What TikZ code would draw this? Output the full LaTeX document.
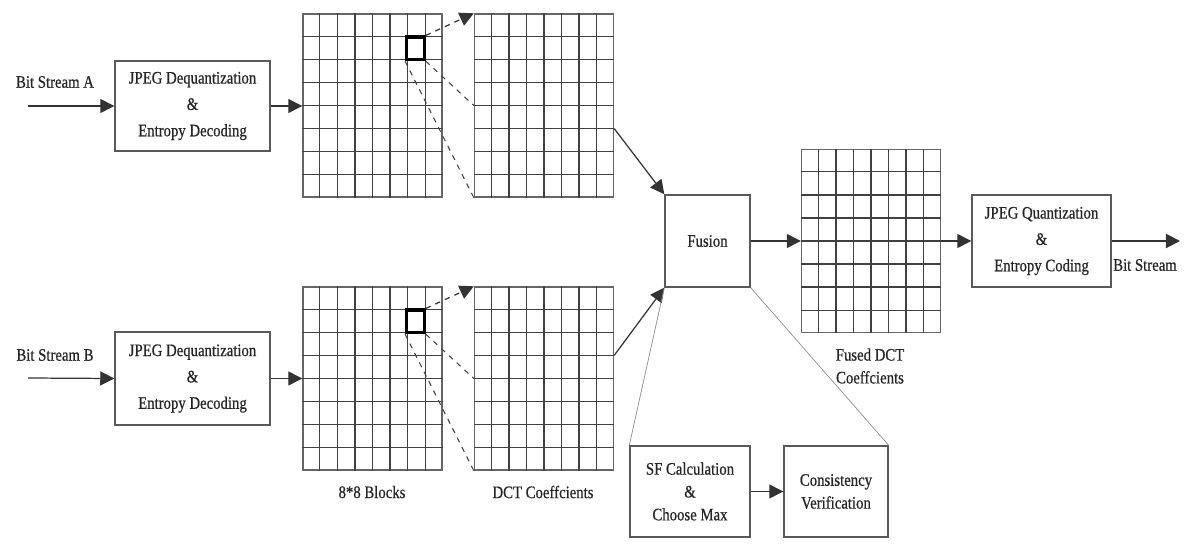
\documentclass[tikz,border=0pt]{standalone}
\usepackage{fontspec}
\setmainfont{Liberation Serif}[FakeStretch=0.84,FakeBold=0.6]
\usetikzlibrary{arrows.meta,calc}
\begin{document}
\begin{tikzpicture}[x=0.02cm,y=-0.02cm,
  box/.style={draw=black!65,line width=0.8pt,fill=white,align=center,inner sep=0pt,
    text=black!85,font=\fontsize{10}{15}\selectfont},
  gridbox/.style={draw=black!60,line width=0.8pt,inner sep=0pt,minimum width=2.78cm,minimum height=3.66cm},
  gline/.style={draw=black!75,line width=0.7pt},
  sel/.style={draw=black,line width=1.8pt,inner sep=0pt,minimum width=0.35cm,minimum height=0.45cm},
  arr/.style={draw=black!80,line width=0.7pt,-{Triangle[length=8pt,width=8pt]}},
  dsh/.style={draw=black!75,line width=0.6pt,dashed},
  thin/.style={draw=black!45,line width=0.4pt},
  lbl/.style={inner sep=0pt,align=center,text=black!85,font=\fontsize{10}{13}\selectfont}]
\useasboundingbox (0,0) rectangle (1196,557);

% boxes
\node[box,minimum width=3.1cm,minimum height=1.8cm] (A1) at (192.5,106) {JPEG Dequantization\\\&\\Entropy Decoding};
\node[box,minimum width=3.1cm,minimum height=1.86cm] (B1) at (192.5,378.5) {JPEG Dequantization\\\&\\Entropy Decoding};
\node[box,minimum width=1.7cm,minimum height=1.84cm] (F) at (707.5,241) {Fusion};
\node[box,minimum width=2.78cm,minimum height=1.84cm] (Q) at (1041.5,241) {JPEG Quantization\\\&\\Entropy Coding};
\node[box,minimum width=2.4cm,minimum height=1.82cm,font=\fontsize{10}{13}\selectfont] (SF) at (690,491.5) {SF Calculation\\\&\\Choose Max};
\node[box,minimum width=2.08cm,minimum height=1.82cm,font=\fontsize{10}{13}\selectfont] (CV) at (836,491.5) {Consistency\\Verification};

% grids
\node[gridbox] (g1) at (372.5,105.5) {};
\node[gridbox] (g2) at (544,105.5) {};
\node[gridbox] (g3) at (372.5,378.5) {};
\node[gridbox] (g4) at (544,378.5) {};
\node[gridbox] (g5) at (871,241) {};
\foreach \g in {g1,g2,g3,g4,g5}{
  \foreach \i in {1,...,7}{
    \draw[gline] ($(\g.south west)!\i/8!(\g.south east)$) -- ($(\g.north west)!\i/8!(\g.north east)$);
    \draw[gline] ($(\g.north west)!\i/8!(\g.south west)$) -- ($(\g.north east)!\i/8!(\g.south east)$);
  }
}
\node[sel] (s1) at (415.4,48.3) {};
\node[sel] (s2) at (415.4,321.3) {};

% labels
\node[lbl] (la) at (55,82) {Bit Stream A};
\node[lbl] (lb) at (55,355) {Bit Stream B};
\node[lbl] (l88) at (372,492) {8*8 Blocks};
\node[lbl] (ldct) at (543,492) {DCT Coeffcients};
\node[lbl] (lf) at (870,366) {Fused DCT\\Coeffcients};
\node[lbl] (lbs) at (1145,265) {Bit Stream};

\coordinate (inA) at (28,106);
\coordinate (inB) at (28,378);
\coordinate (out) at (1180,241);

% connectors
\draw[arr] (inA) -- (A1.west);
\draw[arr] (inB) -- (B1.west);
\draw[arr] (A1.east) -- (A1.east -| g1.west);
\draw[arr] (B1.east) -- (B1.east -| g3.west);
\draw[arr,dashed] (s1.north east) -- (g2.north west);
\draw[dsh] (s1.south east) -- (g2.west);
\draw[dsh] (s1.south west) -- (g2.south west);
\draw[arr,dashed] (s2.north east) -- (g4.north west);
\draw[dsh] (s2.south east) -- (g4.west);
\draw[dsh] (s2.south west) -- (g4.south west);
\draw[arr] ($(g2.north east)!5/8!(g2.south east)$) -- (F.north west);
\draw[arr] ($(g4.north east)!3/8!(g4.south east)$) -- (F.south west);
\draw[arr] (F.east) -- (g5.west);
\draw[arr] (g5.east) -- (Q.west);
\draw[arr,line width=1.1pt] (Q.east) -- (out);
\draw[arr] (SF.east) -- (CV.west);
\draw[thin] (F.south west) -- (SF.north west);
\draw[thin] (F.south east) -- (CV.north east);
\end{tikzpicture}
\end{document}
